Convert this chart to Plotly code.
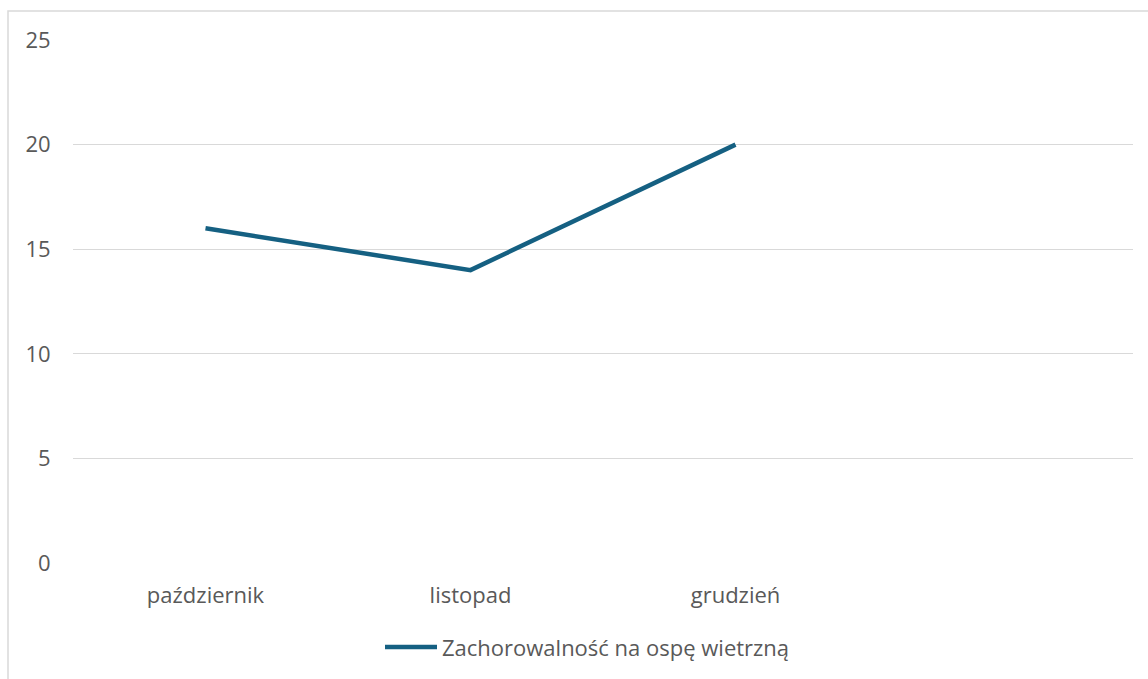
import plotly.graph_objects as go

categories = ["październik", "listopad", "grudzień", ""]
values = [16, 14, 20]
series_name = "Zachorowalność na ospę wietrzną"
y_ticks = [0, 5, 10, 15, 20, 25]

W, H = 1148, 679
ml, mr, mt, mb = 73, 15, 40, 116
pw, ph = W - ml - mr, H - mt - mb
line_color = "#156082"
line_width = 4.5
text_color = "#595959"

def px_x(x):
    return (x - ml) / pw

def px_y(y):
    return 1 - (y - mt) / ph

fig = go.Figure()
fig.add_trace(go.Scatter(
    x=list(range(len(values))), y=values, mode="lines",
    name=series_name,
    line=dict(color=line_color, width=line_width),
    showlegend=False,
))

font_family = "Open Sans, Lato, sans-serif"
legend_mid = 647
fig.update_layout(
    width=W, height=H,
    margin=dict(l=ml, r=mr, t=mt, b=mb),
    paper_bgcolor="white", plot_bgcolor="white",
    font=dict(family=font_family, size=22, color=text_color),
    showlegend=False,
    xaxis=dict(range=[-0.5, len(categories) - 0.5],
               tickvals=list(range(len(categories))), ticktext=categories,
               showgrid=False, zeroline=False, showline=False,
               ticks="outside", ticklen=13, tickcolor="rgba(0,0,0,0)",
               fixedrange=True),
    yaxis=dict(range=[0, 25], tickvals=y_ticks, ticktext=[str(v) for v in y_ticks],
               showgrid=True, gridcolor="#d9d9d9", gridwidth=1.3,
               zeroline=False, showline=False,
               ticks="outside", ticklen=17, tickcolor="rgba(0,0,0,0)",
               fixedrange=True),
    shapes=[
        dict(type="rect", xref="paper", yref="paper",
             x0=px_x(8), x1=px_x(1160), y0=px_y(700), y1=px_y(11),
             line=dict(color="#d9d9d9", width=1.5), fillcolor="rgba(0,0,0,0)",
             layer="below"),
        # legend key (Excel-style long sample line)
        dict(type="line", xref="paper", yref="paper",
             x0=px_x(385), x1=px_x(437), y0=px_y(legend_mid), y1=px_y(legend_mid),
             line=dict(color=line_color, width=line_width)),
    ],
    annotations=[
        dict(text=series_name, xref="paper", yref="paper",
             x=px_x(440), y=px_y(legend_mid), xanchor="left", yanchor="middle",
             showarrow=False, font=dict(size=22, color=text_color)),
    ],
)

fig.write_html("out.html", config={"displayModeBar": False},
               post_script="document.body.style.margin='0';document.body.style.overflow='hidden';")
